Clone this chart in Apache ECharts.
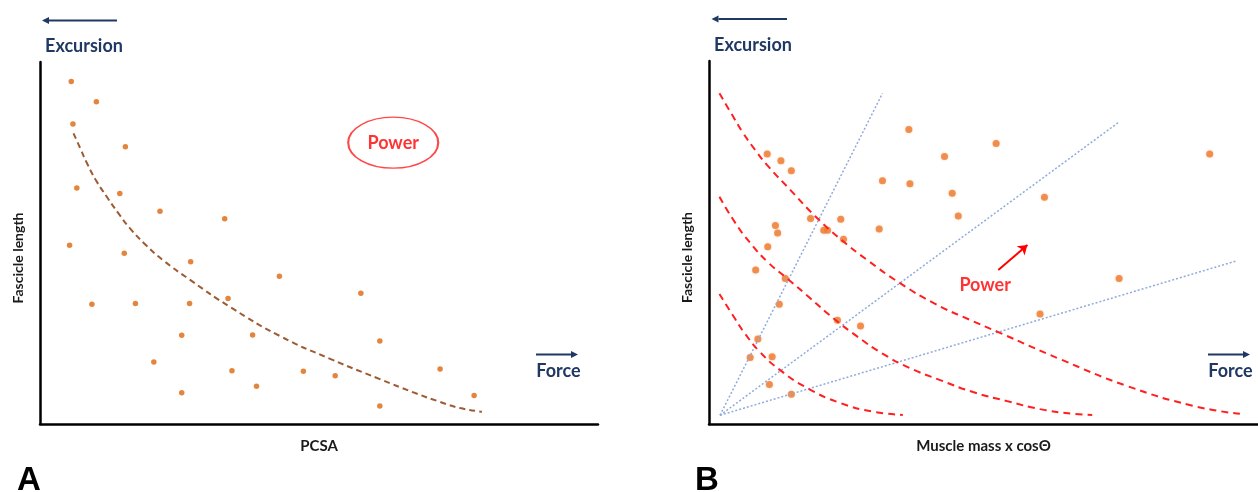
<!DOCTYPE html>
<html>
<head>
<meta charset="utf-8">
<title>Fascicle length vs PCSA and muscle mass</title>
<script src="https://cdn.jsdelivr.net/npm/echarts@6/dist/echarts.min.js"></script>
<style>
  html, body { margin: 0; padding: 0; background: #ffffff; }
  #chart { width: 1258px; height: 492px; }
</style>
</head>
<body>
<div id="chart"></div>
<script>
// Panel A: fascicle length against PCSA (relative units, 0-100)
const pcsaPoints = [
  [5.6, 94.6], [10.1, 89.0], [5.9, 82.9], [15.3, 76.6], [6.6, 65.2], [14.3, 63.7],
  [21.5, 58.8], [33.1, 56.7], [5.3, 49.4], [15.1, 47.2], [27.0, 44.8], [42.9, 40.8],
  [9.3, 33.1], [17.1, 33.3], [26.8, 33.3], [33.7, 34.7], [25.4, 24.5], [38.1, 24.6],
  [20.4, 17.1], [34.4, 14.7], [47.2, 14.6], [25.4, 8.6], [38.8, 10.4], [57.5, 36.1],
  [60.9, 22.9], [52.9, 13.3], [71.7, 15.2], [77.8, 7.9], [60.9, 5.0]
];
const pcsaTrend = [
  [6.0, 80.3], [7.2, 76.2], [8.4, 72.1], [10.0, 67.4], [12.0, 62.7], [14.0, 58.3],
  [16.1, 54.1], [19.0, 49.4], [22.0, 45.3], [26.9, 39.8], [34.1, 32.3], [43.0, 24.3],
  [52.0, 18.0], [60.9, 12.4], [66.8, 8.8], [71.7, 6.1], [75.3, 4.4], [79.2, 3.4]
];
const powerBadgeA = [[63.3, 77.7]];

// Panel B: fascicle length against muscle mass x cosΘ (relative units, 0-100)
const massPoints = [
  [36.4, 81.1], [42.9, 73.7], [10.6, 74.4], [13.1, 72.5], [15.0, 69.8], [31.6, 67.0],
  [36.6, 66.2], [44.3, 63.6], [45.4, 57.3], [18.5, 56.6], [24.0, 56.4], [12.1, 54.7],
  [12.5, 52.6], [20.9, 53.4], [21.6, 53.4], [24.5, 50.9], [31.0, 53.7], [10.7, 48.8],
  [8.5, 42.4], [13.9, 40.1], [12.8, 33.0], [23.4, 28.6], [27.6, 27.0], [8.9, 23.4],
  [7.5, 18.3], [11.5, 18.5], [11.0, 10.9], [15.0, 8.2], [52.3, 77.3], [91.2, 74.4],
  [61.1, 62.5], [74.7, 40.1], [60.3, 30.3]
];
const rayOrigin = [2.0, 2.4];
const rayEnds = [[31.6, 91.1], [74.7, 83.2], [96.0, 44.9]];
const isoPowerHigh = [
  [1.9, 91.1], [4.0, 85.7], [6.2, 80.2], [8.4, 75.5], [10.6, 71.3], [14.8, 64.5],
  [19.3, 57.3], [23.9, 51.0], [28.8, 45.2], [34.8, 38.8], [41.2, 33.1], [47.5, 28.7],
  [53.0, 25.1], [63.9, 17.9], [76.1, 10.5], [88.2, 5.0], [96.7, 2.8]
];
const isoPowerMid = [
  [1.9, 62.6], [4.7, 55.6], [7.5, 49.9], [10.7, 44.6], [14.4, 39.9], [18.4, 34.7],
  [22.6, 29.2], [27.1, 24.0], [31.7, 19.3], [36.6, 15.4], [42.1, 12.1], [48.1, 8.8],
  [54.3, 6.3], [60.3, 4.1], [66.3, 2.8], [69.8, 2.5]
];
const isoPowerLow = [
  [1.9, 35.8], [4.4, 29.8], [6.6, 24.8], [9.3, 19.8], [12.9, 14.9], [17.9, 9.9],
  [23.9, 5.8], [29.9, 3.4], [35.3, 2.5]
];
const powerArrowB = [[52.7, 42.4], [58.0, 49.3]];
const powerLabelB = [[50.3, 38.3]];

const NAVY = '#1F3864';
const FONT = 'Lato, "Open Sans", sans-serif';

function plainAxis(name, isX, shift) {
  const ax = {
    type: 'value', min: 0, max: 100,
    name: name, nameLocation: 'middle',
    nameGap: 15,
    nameTextStyle: { fontFamily: FONT, fontWeight: 'bold', fontSize: isX ? 15 : 14, color: '#1a1a1a' },
    axisLine: { show: true, lineStyle: { color: '#000', width: 2.5 } },
    axisTick: { show: false }, axisLabel: { show: false }, splitLine: { show: false }
  };
  if (!isX) { ax.nameTextStyle.padding = [0, shift, 0, 0]; }
  return ax;
}

function arrow(x1, x2, y, color) {
  // horizontal arrow from x1 to x2 (head at x2)
  const dir = x2 > x1 ? 1 : -1;
  const head = 7;
  return {
    type: 'group', silent: true,
    children: [
      { type: 'line', shape: { x1: x1, y1: y, x2: x2 - dir * head, y2: y }, style: { stroke: color, lineWidth: 2 } },
      { type: 'polygon', shape: { points: [[x2, y], [x2 - dir * head, y - 3.5], [x2 - dir * head, y + 3.5]] }, style: { fill: color } }
    ]
  };
}

function label(text, x, y, size, color, family) {
  return {
    type: 'text', x: x, y: y, silent: true,
    style: { text: text, fill: color, font: 'bold ' + size + 'px ' + (family || FONT), align: 'center', verticalAlign: 'middle' }
  };
}

function curveSeries(data, color, dash) {
  return {
    type: 'line', xAxisIndex: 1, yAxisIndex: 1, data: data, smooth: true,
    showSymbol: false, silent: true,
    lineStyle: { color: color, width: 2, type: dash }
  };
}

const chart = echarts.init(document.getElementById('chart'), null, { renderer: 'canvas' });

chart.setOption({
  backgroundColor: '#ffffff',
  animation: false,
  grid: [
    { left: 40, top: 62, width: 558, height: 362 },
    { left: 709, top: 61, width: 549, height: 363 }
  ],
  xAxis: [
    Object.assign(plainAxis('PCSA', true), { gridIndex: 0 }),
    Object.assign(plainAxis('Muscle mass x cosΘ', true), { gridIndex: 1 })
  ],
  yAxis: [
    Object.assign(plainAxis('Fascicle length', false, 30), { gridIndex: 0 }),
    Object.assign(plainAxis('Fascicle length', false, 30), { gridIndex: 1 })
  ],
  graphic: [
    arrow(117, 42, 20.5, NAVY),
    label('Excursion', 84, 46, 18, NAVY),
    arrow(536, 578, 354.5, NAVY),
    label('Force', 558.5, 371.5, 18, NAVY),
    arrow(787, 711.5, 19, NAVY),
    label('Excursion', 753, 45, 18, NAVY),
    arrow(1208, 1250, 354.5, NAVY),
    label('Force', 1230.5, 371.5, 18, NAVY),
    label('A', 29, 481, 33, '#000', '"Liberation Sans", Arial, sans-serif'),
    label('B', 707, 481, 33, '#000', '"Liberation Sans", Arial, sans-serif')
  ],
  series: [
    {
      type: 'line', xAxisIndex: 0, yAxisIndex: 0, data: pcsaTrend, smooth: true,
      showSymbol: false, silent: true,
      lineStyle: { color: '#9E5B33', width: 2, type: [6, 4] }
    },
    {
      type: 'scatter', xAxisIndex: 0, yAxisIndex: 0, data: pcsaPoints,
      symbolSize: 5.5, itemStyle: { color: '#DD660C' }
    },
    {
      type: 'scatter', xAxisIndex: 0, yAxisIndex: 0, data: powerBadgeA,
      symbol: 'circle', symbolSize: [90, 51],
      itemStyle: { color: 'rgba(255,255,255,0)', borderColor: '#FF1A1A', borderWidth: 1.6 },
      label: { show: true, position: 'inside', formatter: 'Power', color: '#FF0000',
               fontFamily: FONT, fontWeight: 'bold', fontSize: 18 }
    },
    // constant-velocity rays
    ...rayEnds.map(function (end) {
      return {
        type: 'line', xAxisIndex: 1, yAxisIndex: 1, data: [rayOrigin, end],
        showSymbol: false, silent: true,
        lineStyle: { color: '#8FAADC', width: 1.5, type: [2, 2] }
      };
    }),
    // iso-power curves
    curveSeries(isoPowerHigh, '#FF1F1F', [7, 5]),
    curveSeries(isoPowerMid, '#FF1F1F', [7, 5]),
    curveSeries(isoPowerLow, '#FF1F1F', [7, 5]),
    {
      type: 'scatter', xAxisIndex: 1, yAxisIndex: 1, data: massPoints,
      symbolSize: 7, itemStyle: { color: '#EE7D33', shadowBlur: 2, shadowColor: 'rgba(238,125,51,0.5)' }
    },
    {
      type: 'lines', coordinateSystem: 'cartesian2d', xAxisIndex: 1, yAxisIndex: 1,
      data: [{ coords: powerArrowB }], symbol: ['none', 'arrow'], symbolSize: 9,
      lineStyle: { color: '#FF0000', width: 2, opacity: 1 }, silent: true
    },
    {
      type: 'scatter', xAxisIndex: 1, yAxisIndex: 1, data: powerLabelB, symbolSize: 1,
      itemStyle: { color: 'rgba(255,255,255,0)' },
      label: { show: true, position: 'inside', formatter: 'Power', color: '#FF0000',
               fontFamily: FONT, fontWeight: 'bold', fontSize: 18 }
    }
  ]
});
</script>
</body>
</html>
